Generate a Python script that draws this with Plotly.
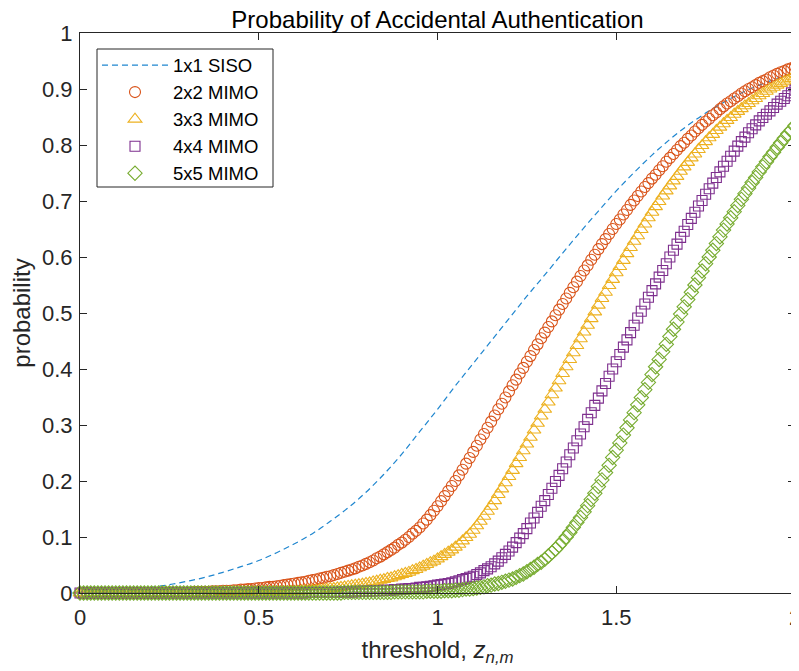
import numpy as np
import plotly.graph_objects as go

# threshold grid (MATLAB 0:0.01:2) for marker series, 0:0.05:2 for the SISO line
x_fine = np.round(np.linspace(0, 2, 201), 2)
x_siso = np.round(np.linspace(0, 2, 41), 2)

siso_1x1 = [
    0.000, 0.001, 0.002, 0.005, 0.010, 0.015, 0.021, 0.028, 0.037, 0.047,
    0.058, 0.072, 0.088, 0.106, 0.128, 0.152, 0.180, 0.212, 0.248, 0.288,
    0.328, 0.370, 0.410, 0.450, 0.490, 0.530, 0.568, 0.607, 0.645, 0.682,
    0.718, 0.751, 0.782, 0.810, 0.835, 0.857, 0.876, 0.893, 0.907, 0.919,
    0.930,
]

mimo_2x2 = [
    0.000, 0.000, 0.000, 0.000, 0.000, 0.000, 0.000, 0.000, 0.000, 0.000,
    0.000, 0.000, 0.000, 0.000, 0.000, 0.000, 0.000, 0.000, 0.000, 0.000,
    0.000, 0.000, 0.000, 0.001, 0.001, 0.001, 0.001, 0.001, 0.001, 0.001,
    0.001, 0.001, 0.002, 0.002, 0.002, 0.002, 0.002, 0.003, 0.003, 0.003,
    0.004, 0.004, 0.004, 0.005, 0.005, 0.006, 0.006, 0.007, 0.007, 0.008,
    0.009, 0.009, 0.010, 0.011, 0.011, 0.012, 0.013, 0.014, 0.015, 0.016,
    0.017, 0.018, 0.019, 0.020, 0.022, 0.023, 0.024, 0.026, 0.027, 0.029,
    0.030, 0.032, 0.034, 0.036, 0.038, 0.040, 0.042, 0.044, 0.047, 0.049,
    0.052, 0.055, 0.058, 0.062, 0.065, 0.069, 0.073, 0.077, 0.081, 0.086,
    0.090, 0.095, 0.100, 0.106, 0.111, 0.117, 0.124, 0.131, 0.139, 0.147,
    0.155, 0.164, 0.173, 0.182, 0.191, 0.200, 0.210, 0.220, 0.231, 0.241,
    0.252, 0.263, 0.274, 0.284, 0.295, 0.306, 0.317, 0.328, 0.338, 0.349,
    0.360, 0.371, 0.381, 0.392, 0.402, 0.413, 0.423, 0.434, 0.444, 0.455,
    0.465, 0.475, 0.485, 0.496, 0.506, 0.516, 0.526, 0.536, 0.546, 0.556,
    0.566, 0.576, 0.585, 0.595, 0.604, 0.614, 0.623, 0.632, 0.641, 0.650,
    0.659, 0.667, 0.676, 0.684, 0.693, 0.701, 0.709, 0.717, 0.725, 0.732,
    0.740, 0.747, 0.755, 0.762, 0.770, 0.777, 0.784, 0.791, 0.798, 0.804,
    0.811, 0.817, 0.824, 0.830, 0.836, 0.842, 0.847, 0.853, 0.858, 0.864,
    0.869, 0.874, 0.878, 0.883, 0.887, 0.892, 0.896, 0.900, 0.903, 0.907,
    0.911, 0.914, 0.917, 0.921, 0.924, 0.927, 0.930, 0.932, 0.935, 0.937,
    0.940,
]

mimo_3x3 = [
    0.000, 0.000, 0.000, 0.000, 0.000, 0.000, 0.000, 0.000, 0.000, 0.000,
    0.000, 0.000, 0.000, 0.000, 0.000, 0.000, 0.000, 0.000, 0.000, 0.000,
    0.000, 0.000, 0.000, 0.000, 0.000, 0.000, 0.000, 0.000, 0.000, 0.000,
    0.000, 0.000, 0.000, 0.000, 0.000, 0.000, 0.000, 0.000, 0.000, 0.000,
    0.000, 0.000, 0.000, 0.000, 0.000, 0.000, 0.001, 0.001, 0.001, 0.001,
    0.001, 0.001, 0.001, 0.002, 0.002, 0.002, 0.002, 0.002, 0.002, 0.003,
    0.003, 0.003, 0.004, 0.004, 0.004, 0.005, 0.005, 0.006, 0.006, 0.007,
    0.008, 0.008, 0.009, 0.010, 0.011, 0.012, 0.013, 0.014, 0.015, 0.016,
    0.017, 0.018, 0.020, 0.021, 0.023, 0.024, 0.026, 0.027, 0.029, 0.031,
    0.033, 0.035, 0.037, 0.040, 0.042, 0.045, 0.048, 0.051, 0.054, 0.057,
    0.061, 0.065, 0.069, 0.073, 0.077, 0.082, 0.087, 0.093, 0.099, 0.105,
    0.112, 0.120, 0.128, 0.137, 0.146, 0.155, 0.165, 0.176, 0.186, 0.197,
    0.208, 0.219, 0.231, 0.242, 0.254, 0.266, 0.278, 0.291, 0.303, 0.316,
    0.328, 0.341, 0.354, 0.366, 0.379, 0.392, 0.404, 0.417, 0.429, 0.442,
    0.454, 0.466, 0.478, 0.490, 0.502, 0.514, 0.526, 0.537, 0.549, 0.560,
    0.572, 0.583, 0.594, 0.606, 0.617, 0.628, 0.638, 0.649, 0.659, 0.670,
    0.680, 0.690, 0.699, 0.709, 0.718, 0.727, 0.736, 0.744, 0.753, 0.761,
    0.769, 0.777, 0.784, 0.792, 0.799, 0.806, 0.813, 0.819, 0.826, 0.832,
    0.838, 0.844, 0.849, 0.855, 0.860, 0.865, 0.870, 0.874, 0.879, 0.883,
    0.888, 0.892, 0.896, 0.900, 0.903, 0.907, 0.910, 0.913, 0.916, 0.919,
    0.922,
]

mimo_4x4 = [
    0.000, 0.000, 0.000, 0.000, 0.000, 0.000, 0.000, 0.000, 0.000, 0.000,
    0.000, 0.000, 0.000, 0.000, 0.000, 0.000, 0.000, 0.000, 0.000, 0.000,
    0.000, 0.000, 0.000, 0.000, 0.000, 0.000, 0.000, 0.000, 0.000, 0.000,
    0.000, 0.000, 0.000, 0.000, 0.000, 0.000, 0.000, 0.000, 0.000, 0.000,
    0.000, 0.000, 0.000, 0.000, 0.000, 0.000, 0.000, 0.000, 0.000, 0.000,
    0.000, 0.000, 0.000, 0.000, 0.000, 0.000, 0.000, 0.000, 0.000, 0.000,
    0.000, 0.000, 0.000, 0.000, 0.001, 0.001, 0.001, 0.001, 0.001, 0.001,
    0.001, 0.001, 0.001, 0.002, 0.002, 0.002, 0.002, 0.002, 0.003, 0.003,
    0.003, 0.003, 0.004, 0.004, 0.004, 0.005, 0.005, 0.005, 0.006, 0.006,
    0.007, 0.007, 0.008, 0.008, 0.009, 0.010, 0.010, 0.011, 0.012, 0.013,
    0.014, 0.015, 0.016, 0.017, 0.018, 0.020, 0.022, 0.024, 0.026, 0.028,
    0.030, 0.033, 0.036, 0.040, 0.043, 0.047, 0.052, 0.057, 0.063, 0.069,
    0.075, 0.082, 0.090, 0.098, 0.106, 0.115, 0.125, 0.134, 0.144, 0.155,
    0.165, 0.176, 0.187, 0.199, 0.210, 0.222, 0.234, 0.247, 0.259, 0.272,
    0.284, 0.297, 0.310, 0.322, 0.335, 0.348, 0.361, 0.374, 0.387, 0.400,
    0.413, 0.426, 0.439, 0.452, 0.465, 0.478, 0.491, 0.503, 0.516, 0.528,
    0.540, 0.552, 0.564, 0.576, 0.588, 0.600, 0.612, 0.623, 0.635, 0.646,
    0.658, 0.669, 0.680, 0.691, 0.701, 0.712, 0.722, 0.732, 0.742, 0.752,
    0.762, 0.771, 0.780, 0.789, 0.798, 0.806, 0.814, 0.822, 0.829, 0.836,
    0.843, 0.849, 0.855, 0.861, 0.867, 0.873, 0.878, 0.883, 0.888, 0.893,
    0.898,
]

mimo_5x5 = [
    0.000, 0.000, 0.000, 0.000, 0.000, 0.000, 0.000, 0.000, 0.000, 0.000,
    0.000, 0.000, 0.000, 0.000, 0.000, 0.000, 0.000, 0.000, 0.000, 0.000,
    0.000, 0.000, 0.000, 0.000, 0.000, 0.000, 0.000, 0.000, 0.000, 0.000,
    0.000, 0.000, 0.000, 0.000, 0.000, 0.000, 0.000, 0.000, 0.000, 0.000,
    0.000, 0.000, 0.000, 0.000, 0.000, 0.000, 0.000, 0.000, 0.000, 0.000,
    0.000, 0.000, 0.000, 0.000, 0.000, 0.000, 0.000, 0.000, 0.000, 0.000,
    0.000, 0.000, 0.000, 0.000, 0.000, 0.000, 0.000, 0.000, 0.000, 0.000,
    0.000, 0.000, 0.000, 0.000, 0.001, 0.001, 0.001, 0.001, 0.001, 0.001,
    0.001, 0.001, 0.001, 0.001, 0.001, 0.001, 0.001, 0.001, 0.002, 0.002,
    0.002, 0.002, 0.002, 0.002, 0.002, 0.002, 0.002, 0.003, 0.003, 0.003,
    0.003, 0.003, 0.004, 0.004, 0.004, 0.005, 0.005, 0.006, 0.007, 0.007,
    0.008, 0.009, 0.010, 0.011, 0.013, 0.014, 0.016, 0.017, 0.019, 0.021,
    0.023, 0.025, 0.028, 0.031, 0.034, 0.038, 0.042, 0.046, 0.051, 0.055,
    0.060, 0.066, 0.072, 0.078, 0.085, 0.092, 0.100, 0.108, 0.117, 0.126,
    0.135, 0.145, 0.156, 0.167, 0.178, 0.190, 0.202, 0.215, 0.228, 0.242,
    0.255, 0.268, 0.282, 0.295, 0.309, 0.322, 0.336, 0.349, 0.363, 0.376,
    0.390, 0.404, 0.417, 0.431, 0.444, 0.458, 0.471, 0.484, 0.498, 0.511,
    0.524, 0.537, 0.550, 0.563, 0.575, 0.588, 0.600, 0.612, 0.624, 0.636,
    0.648, 0.659, 0.670, 0.681, 0.692, 0.703, 0.713, 0.723, 0.733, 0.742,
    0.752, 0.761, 0.770, 0.779, 0.787, 0.796, 0.804, 0.812, 0.820, 0.827,
    0.835,
]

x_ticks = [0, 0.5, 1, 1.5, 2]
x_tick_labels = ["0", "0.5", "1", "1.5", "2"]
y_ticks = [0, 0.1, 0.2, 0.3, 0.4, 0.5, 0.6, 0.7, 0.8, 0.9, 1]
y_tick_labels = ["0", "0.1", "0.2", "0.3", "0.4", "0.5", "0.6", "0.7", "0.8", "0.9", "1"]

FONT = "Liberation Sans, Arial, Helvetica, sans-serif"
AX = "#262626"

fig = go.Figure()
fig.add_trace(go.Scatter(
    x=x_siso, y=siso_1x1, mode="lines", name="1x1 SISO", cliponaxis=False,
    line=dict(color="#1f86cf", width=1.2, dash="6px,4px", shape="spline")))

marker_specs = [
    ("2x2 MIMO", mimo_2x2, "circle-open", "#D95319", 11),
    ("3x3 MIMO", mimo_3x3, "triangle-up-open", "#EDB120", 12),
    ("4x4 MIMO", mimo_4x4, "square-open", "#7E2F8E", 10),
    ("5x5 MIMO", mimo_5x5, "diamond-open", "#77AC30", 11),
]
for name, ys, sym, col, sz in marker_specs:
    fig.add_trace(go.Scatter(
        x=x_fine, y=ys, mode="markers", name=name, cliponaxis=False,
        marker=dict(symbol=sym, size=sz, color=col, line=dict(width=1.1, color=col))))

# legend frame drawn as a shape (paper coords of the plot area)
fig.add_shape(type="rect", xref="paper", yref="paper",
              x0=17 / 715, x1=193 / 715, y0=(593 - 187) / 560, y1=(593 - 49) / 560,
              line=dict(color=AX, width=1), fillcolor="white", layer="above")

# the page body adds an 8px offset, so margins are set 8px smaller on top/left
fig.update_layout(
    width=799, height=671,
    margin=dict(l=72, r=12, t=25, b=86, autoexpand=False),
    paper_bgcolor="white", plot_bgcolor="white",
    font=dict(family=FONT, color=AX, size=22),
    title=dict(text="Probability of Accidental Authentication", x=0.5, xref="paper",
               y=1 - 11.5 / 671, yref="container", yanchor="middle", xanchor="center",
               font=dict(size=24, color="black", family=FONT), automargin=False),
    showlegend=True,
    legend=dict(x=17 / 715, y=(593 - 46.5) / 560, xanchor="left", yanchor="top",
                borderwidth=0, bgcolor="rgba(0,0,0,0)",
                font=dict(size=18.5, color="black", family=FONT),
                itemwidth=66, traceorder="normal"),
)
fig.update_xaxes(range=[0, 2], tickvals=x_ticks, ticktext=x_tick_labels,
                 ticks="inside", ticklen=7, tickcolor=AX, tickwidth=1,
                 showline=True, linecolor=AX, linewidth=1, mirror="ticks",
                 showgrid=False, zeroline=False, ticklabelstandoff=5,
                 ticklabeloverflow="allow", automargin=False,
                 tickfont=dict(size=22, color=AX),
                 title=dict(text="threshold, <i>z</i><sub><i>n,m</i></sub>",
                            font=dict(size=24, color=AX), standoff=11))
fig.update_yaxes(range=[0, 1], tickvals=y_ticks, ticktext=y_tick_labels,
                 ticks="inside", ticklen=7, tickcolor=AX, tickwidth=1,
                 showline=True, linecolor=AX, linewidth=1, mirror="ticks",
                 showgrid=False, zeroline=False, ticklabelstandoff=2,
                 ticklabeloverflow="allow", automargin=False,
                 tickfont=dict(size=22, color=AX),
                 title=dict(text="probability", font=dict(size=24, color=AX), standoff=8))

fig.write_html("out.html")
